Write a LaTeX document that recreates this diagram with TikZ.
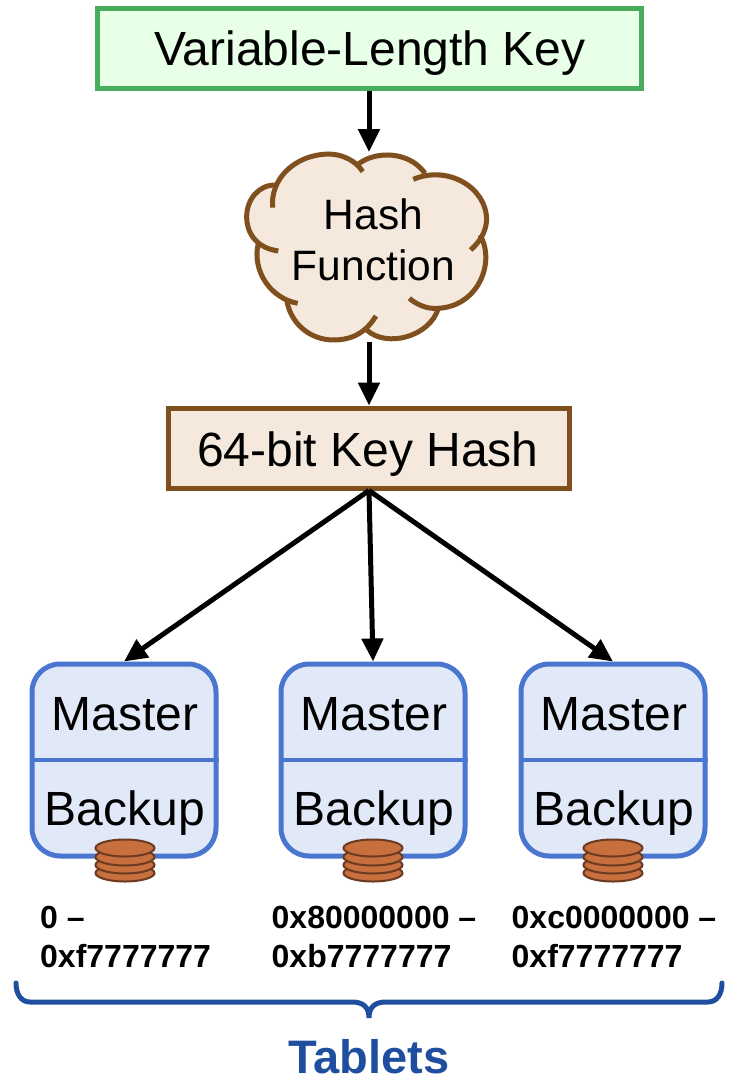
\documentclass[tikz,border=0pt]{standalone}
\usepackage{fontspec}
\setmainfont{Liberation Sans}
\usetikzlibrary{arrows.meta}
\definecolor{keyline}{HTML}{47AD5B}
\definecolor{keyfill}{HTML}{E8FFE8}
\definecolor{brownline}{HTML}{7F4F1E}
\definecolor{brownfill}{HTML}{F5E8DC}
\definecolor{blueline}{HTML}{4A76CF}
\definecolor{bluefill}{HTML}{E1E8F8}
\definecolor{diskfill}{HTML}{C86F3E}
\definecolor{diskline}{HTML}{6B3A20}
\definecolor{navy}{HTML}{1F4E9F}
\tikzset{
  x=1pt,y=-1pt,
  bigtxt/.style={font=\fontsize{48}{50}\selectfont,inner sep=0pt,anchor=base,text=black},
  cloudtxt/.style={font=\fontsize{42.5}{46}\selectfont,inner sep=0pt,anchor=base,text=black},
  rangetxt/.style={font=\fontsize{32}{34}\selectfont\bfseries,inner sep=0pt,anchor=base west,text=black},
  arrowline/.style={line width=5pt,draw=black,-{Triangle[length=23pt,width=21pt]},shorten >=0pt},
  keybox/.style={draw=keyline,fill=keyfill,line width=5pt,minimum width=544pt,minimum height=80pt,inner sep=0pt},
  hashbox/.style={draw=brownline,fill=brownfill,line width=5pt,minimum width=401pt,minimum height=80pt,inner sep=0pt},
  tablet/.style={draw=blueline,fill=bluefill,line width=5pt,rounded corners=28pt,minimum width=184pt,minimum height=192pt,inner sep=0pt},
  disk/.style={draw=diskline,fill=diskfill,line width=2pt},
  cloudstroke/.style={draw=brownline,line width=5pt},
}
\newcommand{\diskstack}[1]{%
  \foreach \yy in {873,865,857,848}{\draw[disk] (#1,\yy) ellipse [x radius=29.5pt,y radius=8.5pt];}%
}
\newcommand{\tabletbox}[3]{%
  \node[tablet] (#1) at (#2,760) {};
  \draw[draw=blueline,line width=4.5pt] (#1.west) -- (#1.east);
  \node[bigtxt] (#1m) at (#2+1,730) {Master};
  \node[bigtxt] (#1b) at (#2+1,825.5) {Backup};
  \diskstack{#3}%
}
\begin{document}
\begin{tikzpicture}
\useasboundingbox (0,0) rectangle (729,1077);
% key
\node[keybox] (key) at (369,48) {};
\node[bigtxt] (keyt) at (370,65.5) {Variable-Length Key};
% cloud
\begin{scope}[shift={(230,140)},x=0.3333pt,y=-0.3333pt]
  \fill[brownfill] (135,140) .. controls (170,70) and (320,10) .. (398,72)
    .. controls (440,35) and (540,35) .. (585,100)
    .. controls (680,75) and (780,150) .. (770,240)
    .. controls (768,265) and (765,280) .. (755,295)
    .. controls (790,350) and (770,510) .. (625,505)
    .. controls (590,600) and (470,620) .. (410,570)
    .. controls (340,625) and (190,610) .. (170,480)
    .. controls (110,460) and (75,390) .. (85,310)
    .. controls (40,280) and (30,150) .. (135,135) -- cycle;
  \draw[cloudstroke] (128,203) .. controls (120,120) and (190,45) .. (295,42) .. controls (340,42) and (380,65) .. (398,95);
  \draw[cloudstroke] (385,72) .. controls (440,30) and (540,35) .. (585,100);
  \draw[cloudstroke] (550,118) .. controls (650,75) and (770,140) .. (770,240) .. controls (768,275) and (750,305) .. (722,330);
  \draw[cloudstroke] (750,285) .. controls (800,370) and (740,510) .. (610,505) .. controls (585,505) and (555,490) .. (538,475);
  \draw[cloudstroke] (625,505) .. controls (600,590) and (470,625) .. (410,570);
  \draw[cloudstroke] (438,528) .. controls (400,590) and (350,600) .. (310,600) .. controls (240,600) and (180,550) .. (170,478);
  \draw[cloudstroke] (203,490) .. controls (120,475) and (65,390) .. (85,310);
  \draw[cloudstroke] (145,333) .. controls (85,325) and (50,285) .. (50,230) .. controls (50,180) and (85,135) .. (135,135);
\end{scope}
\coordinate (cloudtop) at (369,152);
\coordinate (cloudbot) at (369,342);
\node[cloudtxt] (hasht) at (373.5,229) {Hash};
\node[cloudtxt] (funct) at (373.5,280) {Function};
% key hash
\node[hashbox] (hash) at (369,448) {};
\node[bigtxt] (hasht2) at (368,466) {64-bit Key Hash};
% tablets
\tabletbox{ma}{124}{125}
\tabletbox{mb}{373}{373}
\tabletbox{mc}{613}{613}
% arrows
\draw[arrowline] (key.south) -- (cloudtop);
\draw[arrowline] (cloudbot) -- (hash.north);
\draw[arrowline] (hash.south) -- (ma.north);
\draw[arrowline] (hash.south) -- (mb.north);
\draw[arrowline] (hash.south) -- (mc.north);
% ranges
\node[rangetxt] (ra1) at (40,928) {0 –};
\node[rangetxt] (ra2) at (40,967) {0xf7777777};
\node[rangetxt] (rb1) at (271.5,928) {0x80000000 –};
\node[rangetxt] (rb2) at (271.5,967) {0xb7777777};
\node[rangetxt] (rc1) at (511.5,928) {0xc0000000 –};
\node[rangetxt] (rc2) at (511.5,967) {0xf7777777};
% brace
\draw[draw=navy,line width=5pt,line cap=round] (16,983) .. controls (16,994) and (21,1002) .. (30,1002) -- (352,1002) .. controls (362,1002) and (369,1006) .. (369,1018) .. controls (369,1006) and (376,1002) .. (386,1002) -- (708,1002) .. controls (717,1002) and (722,994) .. (722,983);
\node[font=\fontsize{47}{48}\selectfont\bfseries,text=navy,inner sep=0pt,anchor=base] (tab) at (369,1073) {Tablets};
\end{tikzpicture}
\end{document}
